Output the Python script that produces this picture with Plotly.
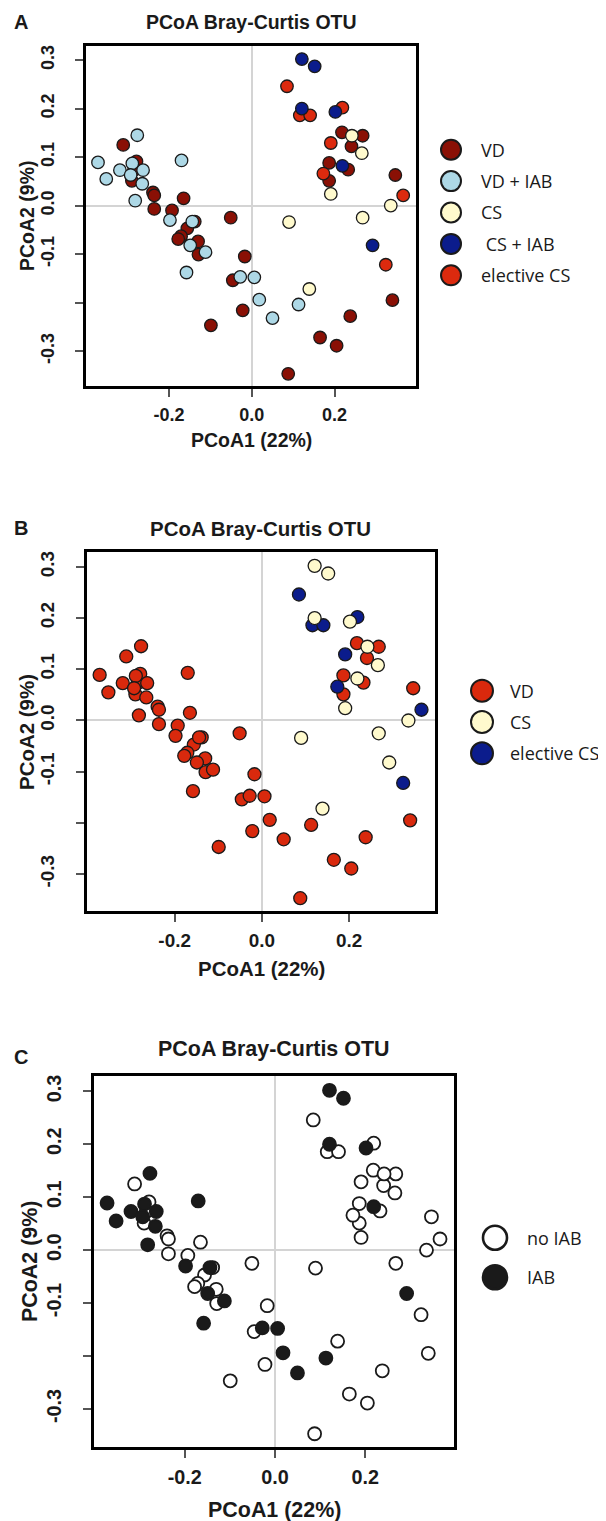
import plotly.graph_objects as go

W, H = 606, 1521

# PCoA coordinates, one pair of lists per group
vd_pc1 = [-0.311, -0.279, -0.285, -0.290, -0.239, -0.236, -0.165, -0.236, -0.193, -0.138,
          -0.156, -0.171, -0.178, -0.130, -0.129, -0.051, -0.017, -0.046, -0.022, -0.099,
          0.238, 0.165, 0.205, 0.088, 0.340, 0.347, 0.218, 0.268, 0.241, 0.187, 0.233, 0.187]
vd_pc2 = [0.125, 0.091, 0.073, 0.051, 0.027, 0.021, 0.015, -0.007, -0.010, -0.033,
          -0.047, -0.063, -0.069, -0.074, -0.101, -0.025, -0.105, -0.154, -0.216, -0.247,
          -0.228, -0.272, -0.289, -0.347, -0.195, 0.063, 0.151, 0.144, 0.122, 0.088, 0.074, 0.051]

vd_iab_pc1 = [-0.277, -0.372, -0.170, -0.289, -0.319, -0.263, -0.293, -0.352, -0.265, -0.282,
              -0.198, -0.144, -0.149, -0.112, -0.158, -0.028, 0.006, 0.018, 0.050, 0.113]
vd_iab_pc2 = [0.145, 0.089, 0.093, 0.087, 0.073, 0.073, 0.063, 0.055, 0.045, 0.010,
              -0.030, -0.033, -0.082, -0.096, -0.138, -0.147, -0.148, -0.194, -0.232, -0.204]

cs_pc1 = [0.139, 0.268, 0.090, 0.336, 0.242, 0.266, 0.191]
cs_pc2 = [-0.172, -0.025, -0.034, 0.000, 0.144, 0.108, 0.024]

cs_iab_pc1 = [0.121, 0.152, 0.121, 0.202, 0.219, 0.292]
cs_iab_pc2 = [0.302, 0.287, 0.200, 0.193, 0.082, -0.082]

el_pc1 = [0.085, 0.116, 0.141, 0.219, 0.191, 0.173, 0.366, 0.324]
el_pc2 = [0.246, 0.186, 0.186, 0.202, 0.129, 0.066, 0.021, -0.122]

x_ticks = [-0.2, 0.0, 0.2]
x_ticktext = ["-0.2", "0.0", "0.2"]
y_ticks = [-0.3, -0.2, -0.1, 0.0, 0.1, 0.2, 0.3]
y_ticktext = ["-0.3", "", "-0.1", "0.0", "0.1", "0.2", "0.3"]

# group name -> coordinates, for each panel
groups_a = {
    "VD": (vd_pc1, vd_pc2),
    "VD + IAB": (vd_iab_pc1, vd_iab_pc2),
    "elective CS": (el_pc1, el_pc2),
    "CS": (cs_pc1, cs_pc2),
    "CS + IAB": (cs_iab_pc1, cs_iab_pc2),
}
groups_b = {
    "VD": (vd_pc1 + vd_iab_pc1, vd_pc2 + vd_iab_pc2),
    "elective CS": (el_pc1, el_pc2),
    "CS": (cs_pc1 + cs_iab_pc1, cs_pc2 + cs_iab_pc2),
}
groups_c = {
    "no IAB": (vd_pc1 + cs_pc1 + el_pc1, vd_pc2 + cs_pc2 + el_pc2),
    "IAB": (vd_iab_pc1 + cs_iab_pc1, vd_iab_pc2 + cs_iab_pc2),
}

legend_a = ["VD", "VD + IAB", "CS", " CS + IAB", "elective CS"]
legend_b = ["VD", "CS", "elective CS"]
legend_c = ["no IAB", "IAB"]

colors_a = {"VD": "#8a1005", "VD + IAB": "#add8e6", "CS": "#fffacd",
            "CS + IAB": "#0b1c8c", " CS + IAB": "#0b1c8c", "elective CS": "#dc2a0e"}
colors_b = {"VD": "#d9290d", "CS": "#fffacd", "elective CS": "#0b1c8c"}
colors_c = {"no IAB": "#ffffff", "IAB": "#1a1a1a"}

XR = [-0.401, 0.397]
YR = [-0.372, 0.329]


def fx(px):
    return px / W


def fy(py):
    return 1 - py / H


panels = [
    dict(letter="A", groups=groups_a, colors=colors_a, legend=legend_a,
         frame=(78, 38, 408, 378), size=12.5, line=1.3, fs=1.0,
         letter_xy=(13, 14), title_xy=(243, 14), ylab_xy=(19, 208), xlab_y=432,
         leg_x=443, leg_tx=471, leg_y=(126, 283), leg_size=20),
    dict(letter="B", groups=groups_b, colors=colors_b, legend=legend_b,
         frame=(79, 544, 427, 903), size=13, line=1.3, fs=1.05,
         letter_xy=(13, 520), title_xy=(252, 520), ylab_xy=(18, 724), xlab_y=960,
         leg_x=474, leg_tx=500, leg_y=(667, 761), leg_size=22),
    dict(letter="C", groups=groups_c, colors=colors_c, legend=legend_c,
         frame=(86, 1068, 446, 1439), size=13, line=1.8, fs=1.1,
         letter_xy=(13, 1049), title_xy=(265, 1041), ylab_xy=(22, 1253), xlab_y=1502,
         leg_x=487, leg_tx=517, leg_y=(1210, 1289), leg_size=24),
]

fig = go.Figure()
annotations = []
bold = dict(family="Liberation Sans, Arial", color="#1a1a1a", weight="bold")

for i, p in enumerate(panels):
    n = i + 1
    xa = "x" if n == 1 else f"x{n}"
    ya = "y" if n == 1 else f"y{n}"
    l, t, r, b = p["frame"]
    fs = p["fs"]

    for name, (xs, ys) in p["groups"].items():
        fig.add_trace(go.Scatter(
            x=xs, y=ys, mode="markers", xaxis=xa, yaxis=ya, showlegend=False,
            marker=dict(size=p["size"], color=p["colors"][name],
                        line=dict(color="#1a1a1a", width=p["line"])),
        ))

    axis_common = dict(showgrid=False, zeroline=True, zerolinecolor="#d4d4d4",
                       zerolinewidth=1.5, showline=True, linecolor="black", linewidth=3,
                       mirror=True, ticks="outside", ticklen=8, tickwidth=1.5,
                       tickcolor="#555", fixedrange=True,
                       tickfont=dict(bold, size=18 * fs))
    fig.update_layout(**{
        ("xaxis" if n == 1 else f"xaxis{n}"): dict(
            axis_common, domain=[fx(l), fx(r)], anchor=ya, range=XR,
            tickvals=x_ticks, ticktext=x_ticktext, ticklabelstandoff=2),
        ("yaxis" if n == 1 else f"yaxis{n}"): dict(
            axis_common, domain=[fy(b), fy(t)], anchor=xa, range=YR,
            tickvals=y_ticks, ticktext=y_ticktext, tickangle=-90, ticklabelstandoff=14),
    })

    # legend drawn in its own small axes
    m = n + 3
    lxa, lya = f"x{m}", f"y{m}"
    k = len(p["legend"])
    fig.add_trace(go.Scatter(
        x=[0] * k, y=list(range(k)), mode="markers", xaxis=lxa, yaxis=lya,
        showlegend=False,
        marker=dict(size=p["leg_size"], color=[p["colors"][g] for g in p["legend"]],
                    line=dict(color="#1a1a1a", width=2 if n < 3 else 2.6)),
    ))
    y0, y1 = p["leg_y"]
    fig.update_layout(**{
        f"xaxis{m}": dict(domain=[fx(p["leg_x"] - 15), fx(p["leg_x"] + 15)], range=[-1, 1],
                          visible=False, fixedrange=True, anchor=lya),
        f"yaxis{m}": dict(domain=[fy(y1), fy(y0)], range=[k - 0.5, -0.5],
                          visible=False, fixedrange=True, anchor=lxa),
    })
    for j, g in enumerate(p["legend"]):
        annotations.append(dict(
            text=g, xref="paper", yref=lya, x=fx(p["leg_tx"]), y=j,
            xanchor="left", yanchor="middle", showarrow=False,
            font=dict(family="Open Sans", size=18, color="#1a1a1a")))

    cx = (l + r) / 2
    annotations += [
        dict(text=p["letter"], x=fx(p["letter_xy"][0]), y=fy(p["letter_xy"][1]),
             font=dict(bold, size=20)),
        dict(text="PCoA Bray-Curtis OTU", x=fx(p["title_xy"][0]), y=fy(p["title_xy"][1]),
             font=dict(bold, size=19.5 * fs)),
        dict(text="PCoA2 (9%)", x=fx(p["ylab_xy"][0]), y=fy(p["ylab_xy"][1]),
             textangle=-90, font=dict(bold, size=19.5 * fs)),
        dict(text="PCoA1 (22%)", x=fx(cx), y=fy(p["xlab_y"]),
             font=dict(bold, size=19.5 * fs)),
    ]

for a in annotations:
    a.setdefault("xref", "paper")
    a.setdefault("yref", "paper")
    a.setdefault("xanchor", "center")
    a.setdefault("yanchor", "middle")
    a.setdefault("showarrow", False)

fig.update_layout(
    width=W, height=H, margin=dict(l=0, r=0, t=0, b=0),
    paper_bgcolor="white", plot_bgcolor="white",
    annotations=annotations, showlegend=False,
)

fig.write_html("out.html")
